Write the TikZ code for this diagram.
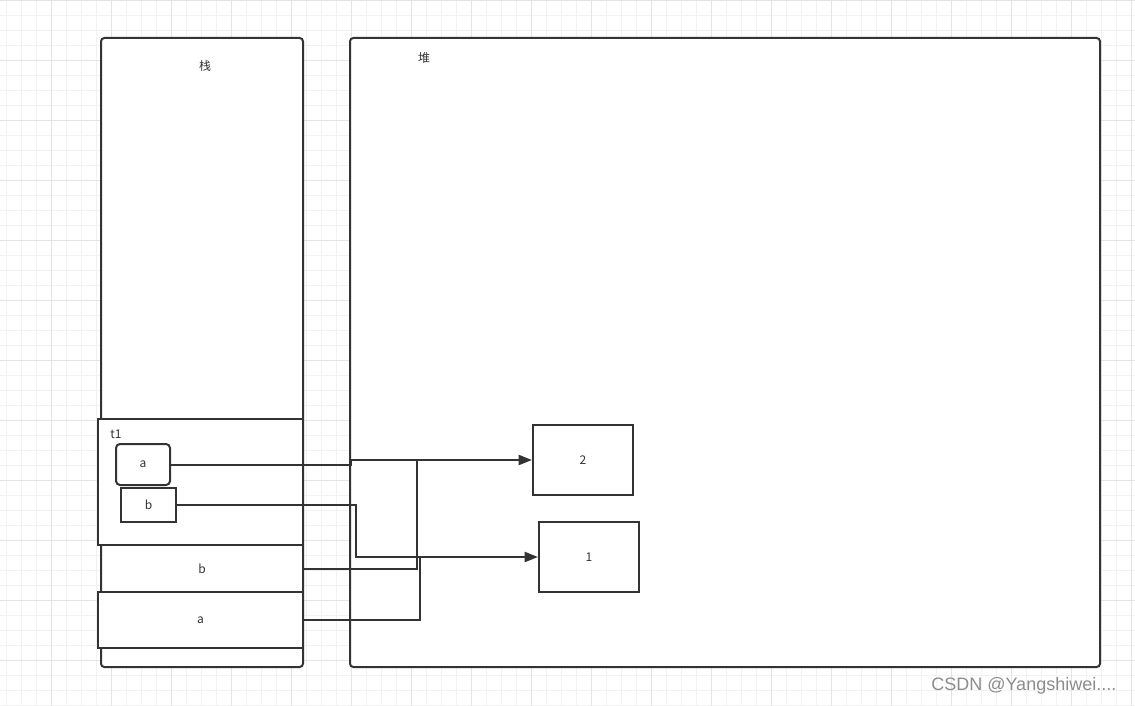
\documentclass[tikz,border=0pt]{standalone}
\usepackage{fontspec}
\setmainfont{Noto Sans CJK SC}
\newfontfamily\markfont{Liberation Sans}
\usepackage{tikz}
\usetikzlibrary{calc,arrows.meta}
\definecolor{lineDark}{RGB}{51,51,51}
\definecolor{gridMinor}{RGB}{242,242,242}
\definecolor{gridMajor}{RGB}{228,228,228}
\definecolor{markGray}{RGB}{140,140,140}

\begin{document}
\begin{tikzpicture}[x=0.75pt,y=-0.75pt,
  cell/.style={draw=lineDark, line width=1.5pt, inner sep=0pt, text=lineDark, font=\fontsize{9}{11}\selectfont},
  link/.style={draw=lineDark, line width=1.5pt},
  tip/.style={-{Triangle[length=10pt,width=7.5pt]}}]
\useasboundingbox (0,0) rectangle (1135,706);
\fill[white] (0,0) rectangle (1135,706);

% background grid
\foreach \gx in {6.5,21.5,...,1135} \draw[gridMinor, line width=0.6pt] (\gx,0)--(\gx,706);
\foreach \gy in {0,15,...,706} \draw[gridMinor, line width=0.6pt] (0,\gy)--(1135,\gy);
\foreach \gx in {51.5,111.5,...,1135} \draw[gridMajor, line width=0.6pt] (\gx,0)--(\gx,706);
\foreach \gy in {0,60,...,706} \draw[gridMajor, line width=0.6pt] (0,\gy)--(1135,\gy);

% stack and heap
\node[cell, fill=white, rounded corners=2.5pt, minimum width=151.5pt, minimum height=471.75pt] (stack) at (202,352.5) {};
\node[cell, fill=white, rounded corners=2.5pt, minimum width=562.5pt, minimum height=471.75pt] (heap) at (725,352.5) {};
\node[cell, draw=none] (lstack) at (205,66) {栈};
\node[cell, draw=none] (lheap) at (424,58) {堆};

% object t1 on the stack
\node[cell, fill=white, minimum width=153.75pt, minimum height=94.5pt] (tone) at (200.5,482) {};
\node[cell, draw=none] (ltone) at (116,434) {t1};
\node[cell, rounded corners=3pt, minimum width=40.5pt, minimum height=30.75pt] (ia) at (143,464.5) {a};
\node[cell, minimum width=41.25pt, minimum height=25.5pt] (ib) at (148.5,505) {b};

% locals
\node[cell, minimum width=151.5pt, minimum height=35.25pt] (rb) at (202,568.5) {b};
\node[cell, fill=white, minimum width=153.75pt, minimum height=42pt] (ra) at (200.5,620) {a};

% values on the heap
\node[cell, minimum width=75pt, minimum height=52.5pt] (two) at (583,460) {2};
\node[cell, minimum width=75pt, minimum height=52.5pt] (one) at (589,557) {1};

% references
\draw[link, tip] (ia.east) -- ($(ia.east -| heap.west)+(2,0)$) |- (two.west);
\draw[link, tip] (ib.east) -- ($(ib.east -| heap.west)+(7,0)$) |- (one.west);
\draw[link] (rb.east) -| ($(two.west)+(-115,0)$);
\draw[link] (ra.east) -| ($(one.west)+(-118,0)$);

\node[text=markGray, font=\markfont\fontsize{13.5}{16}\selectfont, anchor=east] (mark) at (1121,686) {CSDN @Yangshiwei....};
\end{tikzpicture}
\end{document}
